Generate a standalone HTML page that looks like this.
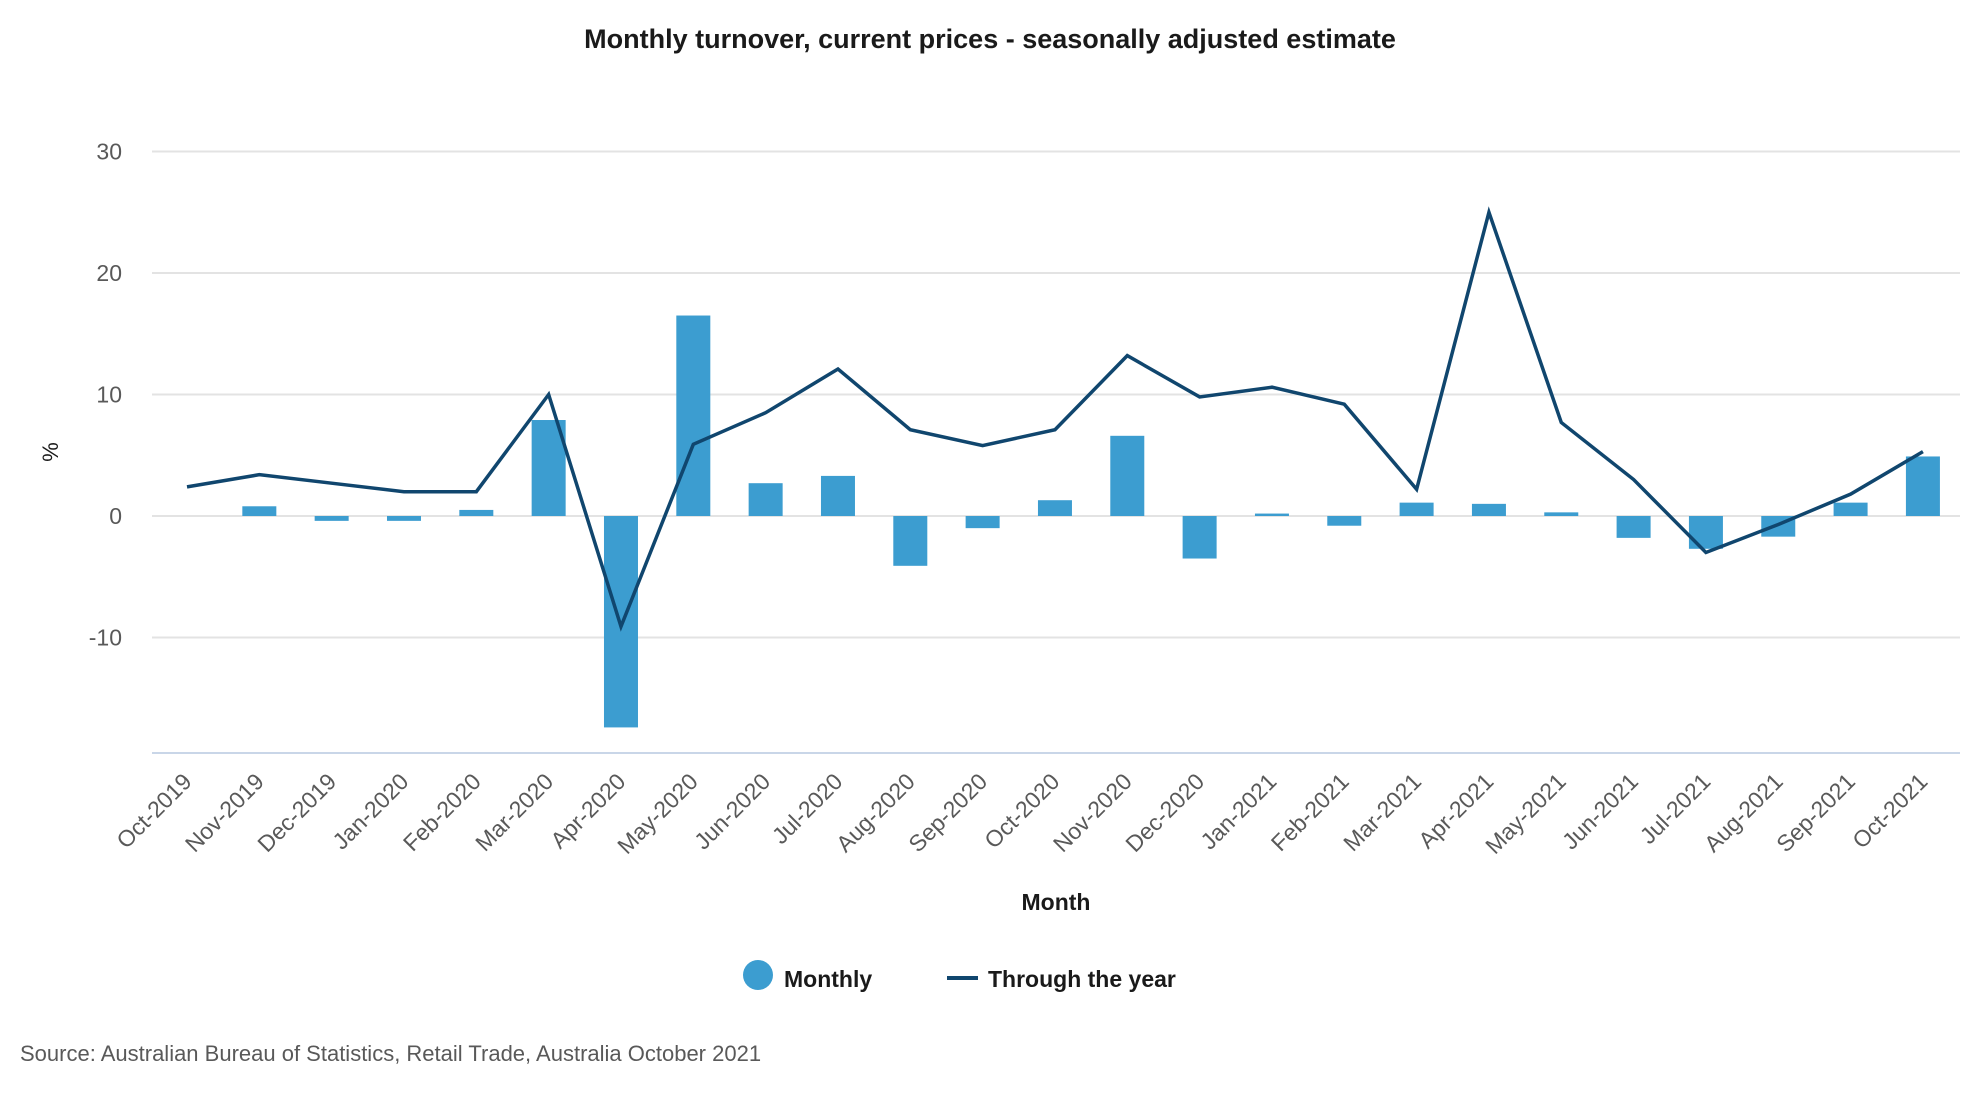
<!DOCTYPE html>
<html><head><meta charset="utf-8"><style>
body{margin:0;background:#fff;font-family:"Liberation Sans",sans-serif}
</style></head><body>
<svg id="chart" width="1980" height="1100" viewBox="0 0 1980 1100">
<text x="990" y="48" text-anchor="middle" font-size="27" fill="#1a1a1a" font-weight="bold">Monthly turnover, current prices - seasonally adjusted estimate</text>
<g id="grid"></g><g id="bars"></g><g id="line"></g><g id="xlabels"></g>
<text transform="translate(58,452) rotate(-90)" text-anchor="middle" font-size="22" fill="#1a1a1a">%</text>
<text x="1056" y="910" text-anchor="middle" font-size="23" font-weight="bold" fill="#1a1a1a">Month</text>
<g><circle cx="758" cy="975" r="15" fill="#3c9dd0"/><text x="784" y="987" font-size="23" font-weight="bold" fill="#1a1a1a">Monthly</text></g>
<g><rect x="947" y="976" width="31" height="4" fill="#10466e"/><text x="988" y="987" font-size="23" font-weight="bold" fill="#1a1a1a">Through the year</text></g>
<text x="20" y="1061" font-size="22" fill="#595959">Source: Australian Bureau of Statistics, Retail Trade, Australia October 2021</text>
</svg>
<script>
const categories=["Oct-2019","Nov-2019","Dec-2019","Jan-2020","Feb-2020","Mar-2020","Apr-2020","May-2020","Jun-2020","Jul-2020","Aug-2020","Sep-2020","Oct-2020","Nov-2020","Dec-2020","Jan-2021","Feb-2021","Mar-2021","Apr-2021","May-2021","Jun-2021","Jul-2021","Aug-2021","Sep-2021","Oct-2021"];
const monthly=[0,0.8,-0.4,-0.4,0.5,7.9,-17.4,16.5,2.7,3.3,-4.1,-1.0,1.3,6.6,-3.5,0.2,-0.8,1.1,1.0,0.3,-1.8,-2.7,-1.7,1.1,4.9];
const throughYear=[2.4,3.4,2.7,2.0,2.0,10.0,-9.1,5.9,8.5,12.1,7.1,5.8,7.1,13.2,9.8,10.6,9.2,2.2,25.0,7.7,3.0,-3.0,-0.7,1.8,5.3];
const yTicks=[-10,0,10,20,30];
const NS="http://www.w3.org/2000/svg";
const x0=187,dx=72.33,left=152,right=1960;
function xs(i){return x0+i*dx;}
function ys(v){return 516-v*12.15;}
function mk(t,a,p){const e=document.createElementNS(NS,t);for(const k in a)e.setAttribute(k,a[k]);p.appendChild(e);return e;}
const g=document.getElementById('grid');
yTicks.forEach(v=>{
 const l=mk('line',{x1:left,x2:right,y1:ys(v),y2:ys(v),stroke:'#e3e3e3','stroke-width':2},g);
 
 
 const t=mk('text',{x:122,y:ys(v)+8,'text-anchor':'end','font-size':23,fill:'#595959'},g);
 t.textContent=v;
 
 
});
const ax=mk('line',{x1:left,x2:right,y1:753,y2:753,stroke:'#c9d6e8','stroke-width':2},g);


const b=document.getElementById('bars');
monthly.forEach((v,i)=>{
 const y=Math.min(ys(v),ys(0)),h=Math.abs(ys(v)-ys(0));
 const r=mk('rect',{x:xs(i)-17,y:y,width:34,height:h,fill:'#3c9dd0'},b);
 
 
});
const pl=mk('polyline',{points:throughYear.map((v,i)=>xs(i)+','+ys(v)).join(' '),fill:'none',stroke:'#10466e','stroke-width':3.5,'stroke-linejoin':'miter'},document.getElementById('line'));


const xl=document.getElementById('xlabels');
categories.forEach((c,i)=>{
 const t=mk('text',{transform:`translate(${xs(i)+6},${783}) rotate(-45)`,'text-anchor':'end','font-size':23,fill:'#595959'},xl);
 t.textContent=c;
 
 
});
</script>
</body></html>
